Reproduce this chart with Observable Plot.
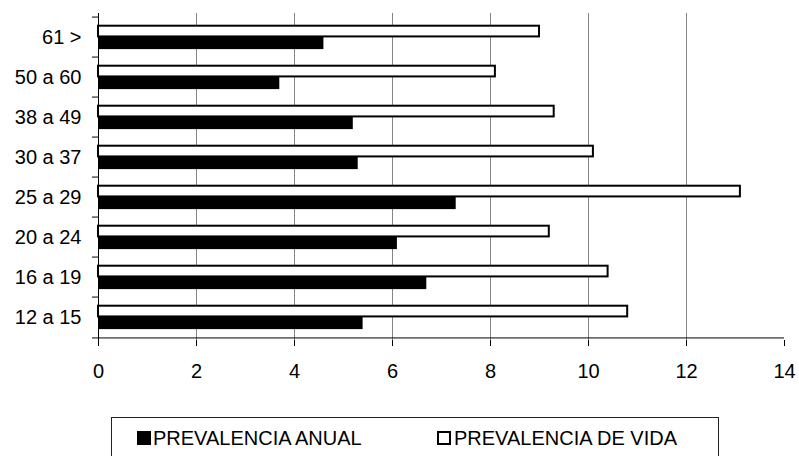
<!DOCTYPE html>
<html>
<head>
<meta charset="utf-8">
<script src="https://cdn.jsdelivr.net/npm/d3@7"></script>
<script src="https://cdn.jsdelivr.net/npm/@observablehq/plot@0.6"></script>
<style>
  html, body { margin: 0; padding: 0; background: #fff; }
  #wrap { position: relative; width: 799px; height: 456px; overflow: hidden; font-family: "Liberation Sans", Arial, sans-serif; }
  #legend { position: absolute; left: 111px; top: 417px; width: 608px; height: 60px; border: 1px solid #222; box-sizing: border-box; }
  .sw { position: absolute; top: 13px; width: 14px; height: 14px; box-sizing: border-box; }
  .lt { position: absolute; top: 10px; font-size: 20px; line-height: 20px; color: #000; white-space: nowrap; }
</style>
</head>
<body>
<div id="wrap"></div>
<script>
const categories = ["61 >", "50 a 60", "38 a 49", "30 a 37", "25 a 29", "20 a 24", "16 a 19", "12 a 15"];
const prevalenciaAnual = [4.6, 3.7, 5.2, 5.3, 7.3, 6.1, 6.7, 5.4];
const prevalenciaVida = [9.0, 8.1, 9.3, 10.1, 13.1, 9.2, 10.4, 10.8];
const xTicks = [0, 2, 4, 6, 8, 10, 12, 14];
const gridTicks = [2, 4, 6, 8, 10, 12];
const seriesNames = ["PREVALENCIA ANUAL", "PREVALENCIA DE VIDA"];

const anual = categories.map((c, i) => ({cat: c, value: prevalenciaAnual[i]}));
const vida = categories.map((c, i) => ({cat: c, value: prevalenciaVida[i]}));

const W = 799, H = 400, mT = 13, mB = 60, mL = 98, mR = 15;
const bw = (H - mT - mB) / categories.length;

const chart = Plot.plot({
  width: W,
  height: H,
  marginTop: mT,
  marginBottom: mB,
  marginLeft: mL,
  marginRight: mR,
  style: {fontFamily: "Liberation Sans, Arial, sans-serif", fontSize: "20px", background: "#fff", color: "#000", overflow: "visible"},
  x: {domain: [0, 14], label: null},
  y: {domain: categories, padding: 0, label: null},
  marks: [
    Plot.ruleX(gridTicks, {stroke: "#858585", strokeWidth: 1}),
    Plot.barX(vida, {y: "cat", x: "value", fill: "#fff", stroke: "#000", strokeWidth: 2, insetTop: 8.7, insetBottom: bw - 20.3}),
    Plot.barX(anual, {y: "cat", x: "value", fill: "#000", insetTop: 20, insetBottom: 7.9}),
    Plot.ruleX([0], {stroke: "#000", strokeWidth: 1}),
    Plot.ruleY([categories[categories.length - 1]], {x1: 0, x2: 14, dy: bw / 2, insetLeft: -6, stroke: "#000", strokeWidth: 1}),
    Plot.axisY({ticks: categories, tickSize: 6, text: null, label: null, dy: -bw / 2, stroke: "#000"}),
    Plot.axisY({tickSize: 0, tickPadding: 17, fontSize: 20, fill: "#000", label: null}),
    Plot.axisX({ticks: xTicks, tickSize: 6, tickPadding: 17, fontSize: 20, fill: "#000", stroke: "#000", label: null})
  ]
});

const wrap = document.getElementById("wrap");
chart.style.position = "absolute";
chart.style.left = "0px";
chart.style.top = "0px";
wrap.appendChild(chart);

const legend = document.createElement("div");
legend.id = "legend";
legend.innerHTML =
  `<div class="sw" style="left:25px;background:#000;"></div>` +
  `<div class="lt" style="left:41px;">${seriesNames[0]}</div>` +
  `<div class="sw" style="left:325px;background:#fff;border:2px solid #000;"></div>` +
  `<div class="lt" style="left:342px;">${seriesNames[1]}</div>`;
wrap.appendChild(legend);
</script>
</body>
</html>
